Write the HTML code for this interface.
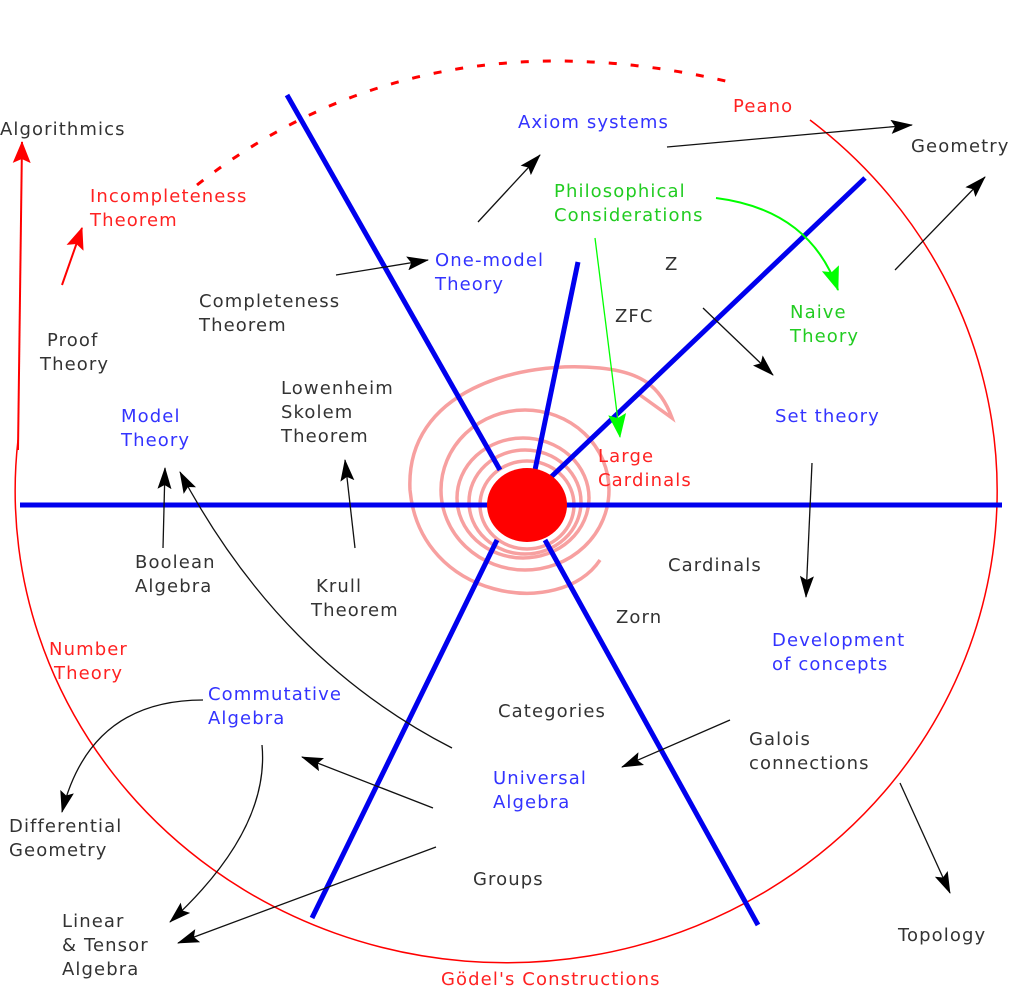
<!DOCTYPE html>
<html><head><meta charset="utf-8"><style>
html,body{margin:0;padding:0;background:#fff;}
svg{display:block;}
text{font-family:"DejaVu Sans","Liberation Sans",sans-serif;font-size:18px;letter-spacing:1.1px;}
.k{fill:#333}.b{fill:#3333ff}.r{fill:#ff2222}.g{fill:#22cc22}
</style></head><body>
<svg width="1023" height="1001" viewBox="0 0 1023 1001" xmlns="http://www.w3.org/2000/svg">
<defs>
<marker id="ak" markerWidth="22" markerHeight="14" refX="21" refY="7" orient="auto" markerUnits="userSpaceOnUse" viewBox="0 0 22 14"><path d="M0,0 L22,7 L0,14 L4,7 Z" fill="#000"/></marker>
<marker id="ar" markerWidth="22" markerHeight="18" refX="21" refY="9" orient="auto" markerUnits="userSpaceOnUse" viewBox="0 0 22 18"><path d="M0,0 L22,9 L0,18 L4,9 Z" fill="#f00"/></marker>
<marker id="ag" markerWidth="24" markerHeight="18" refX="23" refY="9" orient="auto" markerUnits="userSpaceOnUse" viewBox="0 0 24 18"><path d="M0,0 L24,9 L0,18 L4,9 Z" fill="#0f0"/></marker>
</defs>
<g fill="none">
<path d="M810,120 A491,472 0 1 1 18,440" stroke="#f00" stroke-width="1.5"/>
<path d="M197,185 Q420,10 730,82" stroke="#f00" stroke-width="3" stroke-dasharray="8,14"/>
<g stroke="#f7a0a0" stroke-width="3.5">
<ellipse cx="527" cy="505" rx="47" ry="44"/>
<ellipse cx="525" cy="502" rx="56" ry="52"/>
<ellipse cx="523" cy="498" rx="66" ry="60"/>
<ellipse cx="525" cy="490" rx="84" ry="80"/>
<path d="M600,560 C560,620 420,600 410,490 C405,390 520,360 600,368 C640,372 660,385 672,418 L640,395"/>
</g>
<g stroke="#0000ee" stroke-width="5">
<line x1="20" y1="505" x2="1002" y2="505"/>
<line x1="287" y1="95" x2="500" y2="470"/>
<line x1="578" y1="262" x2="535" y2="470"/>
<line x1="865" y1="178" x2="550" y2="478"/>
<line x1="497" y1="540" x2="312" y2="918"/>
<line x1="545" y1="540" x2="758" y2="925"/>
</g>
<ellipse cx="527" cy="505" rx="40" ry="37" fill="#f00"/>
<g stroke="#111" stroke-width="1.3" marker-end="url(#ak)">
<line x1="478" y1="222" x2="540" y2="155"/>
<line x1="667" y1="147" x2="912" y2="125"/>
<line x1="895" y1="270" x2="985" y2="177"/>
<line x1="336" y1="275" x2="428" y2="260"/>
<line x1="703" y1="308" x2="773" y2="375"/>
<line x1="812" y1="463" x2="806" y2="597"/>
<line x1="163" y1="548" x2="165" y2="468"/>
<line x1="355" y1="548" x2="345" y2="460"/>
<path d="M452,748 Q280,660 180,472"/>
<line x1="433" y1="808" x2="302" y2="757"/>
<line x1="730" y1="720" x2="622" y2="767"/>
<line x1="900" y1="783" x2="950" y2="893"/>
<line x1="436" y1="847" x2="178" y2="943"/>
<path d="M262,745 Q270,830 170,922"/>
<path d="M203,700 Q90,700 62,812"/>
</g>
<line x1="18" y1="450" x2="22" y2="142" stroke="#f00" stroke-width="2" marker-end="url(#ar)"/>
<line x1="62" y1="285" x2="82" y2="228" stroke="#f00" stroke-width="2" marker-end="url(#ar)"/>
<line x1="595" y1="238" x2="620" y2="437" stroke="#0f0" stroke-width="1.3" marker-end="url(#ag)"/>
<path d="M716,198 Q810,210 838,290" stroke="#0f0" stroke-width="2" marker-end="url(#ag)"/>
</g>
<text x="0" y="135" class="k">Algorithmics</text>
<text x="90" y="202" class="r">Incompleteness</text><text x="90" y="226" class="r">Theorem</text>
<text x="518" y="128" class="b">Axiom systems</text>
<text x="733" y="112" class="r">Peano</text>
<text x="911" y="152" class="k">Geometry</text>
<text x="554" y="197" class="g">Philosophical</text><text x="554" y="221" class="g">Considerations</text>
<text x="435" y="266" class="b">One-model</text><text x="435" y="290" class="b">Theory</text>
<text x="665" y="270" class="k">Z</text>
<text x="199" y="307" class="k">Completeness</text><text x="199" y="331" class="k">Theorem</text>
<text x="615" y="322" class="k">ZFC</text>
<text x="790" y="318" class="g">Naive</text><text x="790" y="342" class="g">Theory</text>
<text x="47" y="346" class="k">Proof</text><text x="40" y="370" class="k">Theory</text>
<text x="281" y="394" class="k">Lowenheim</text><text x="281" y="418" class="k">Skolem</text><text x="281" y="442" class="k">Theorem</text>
<text x="121" y="422" class="b">Model</text><text x="121" y="446" class="b">Theory</text>
<text x="775" y="422" class="b">Set theory</text>
<text x="598" y="462" class="r">Large</text><text x="598" y="486" class="r">Cardinals</text>
<text x="135" y="568" class="k">Boolean</text><text x="135" y="592" class="k">Algebra</text>
<text x="668" y="571" class="k">Cardinals</text>
<text x="316" y="592" class="k">Krull</text><text x="311" y="616" class="k">Theorem</text>
<text x="616" y="623" class="k">Zorn</text>
<text x="772" y="646" class="b">Development</text><text x="772" y="670" class="b">of concepts</text>
<text x="49" y="655" class="r">Number</text><text x="54" y="679" class="r">Theory</text>
<text x="208" y="700" class="b">Commutative</text><text x="208" y="724" class="b">Algebra</text>
<text x="498" y="717" class="k">Categories</text>
<text x="749" y="745" class="k">Galois</text><text x="749" y="769" class="k">connections</text>
<text x="493" y="784" class="b">Universal</text><text x="493" y="808" class="b">Algebra</text>
<text x="9" y="832" class="k">Differential</text><text x="9" y="856" class="k">Geometry</text>
<text x="473" y="885" class="k">Groups</text>
<text x="62" y="927" class="k">Linear</text><text x="62" y="951" class="k">&amp; Tensor</text><text x="62" y="975" class="k">Algebra</text>
<text x="898" y="941" class="k">Topology</text>
<text x="441" y="985" class="r">Gödel's Constructions</text>
</svg>
</body></html>
